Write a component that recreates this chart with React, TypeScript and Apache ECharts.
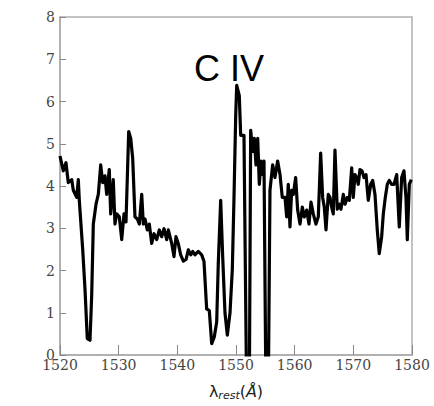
import React, { useEffect, useRef } from "react";
import * as echarts from "echarts";

const wavelength = [
  1520.0, 1520.56, 1521.02, 1521.41, 1522.0, 1522.27, 1522.85, 1523.12, 1523.29, 1523.87,
  1524.26, 1524.65, 1525.11, 1525.4, 1525.68, 1526.14, 1526.53, 1526.94, 1527.28, 1527.67,
  1527.96, 1528.4, 1528.64, 1529.08, 1529.37, 1529.66, 1530.11, 1530.52, 1530.91, 1531.25,
  1531.71, 1532.05, 1532.39, 1532.78, 1533.18, 1533.52, 1533.93, 1534.2, 1534.49, 1534.88,
  1535.22, 1535.63, 1536.02, 1536.48, 1536.93, 1537.33, 1537.73, 1538.19, 1538.46, 1539.04,
  1539.43, 1539.77, 1540.16, 1540.57, 1541.02, 1541.48, 1541.87, 1542.28, 1542.62, 1543.01,
  1543.57, 1544.15, 1544.54, 1545.0, 1545.45, 1545.86, 1546.3, 1546.71, 1546.98, 1547.39,
  1547.73, 1548.12, 1548.52, 1548.98, 1549.37, 1549.66, 1549.95, 1550.12, 1550.56, 1550.8,
  1551.36, 1551.82, 1552.27, 1552.5, 1552.85, 1553.12, 1553.41, 1553.7, 1553.97, 1554.26,
  1554.55, 1554.77, 1555.11, 1555.5, 1555.79, 1556.25, 1556.64, 1557.1, 1557.5, 1557.89,
  1558.35, 1558.64, 1558.91, 1559.2, 1559.49, 1559.77, 1560.17, 1560.51, 1560.91, 1561.3,
  1561.64, 1562.05, 1562.44, 1562.78, 1563.17, 1563.63, 1564.03, 1564.43, 1564.77, 1565.05,
  1565.34, 1565.73, 1566.02, 1566.31, 1566.58, 1566.87, 1567.26, 1567.61, 1567.89, 1568.29,
  1568.58, 1568.97, 1569.31, 1569.72, 1569.99, 1570.28, 1570.57, 1570.84, 1571.13, 1571.47,
  1571.82, 1572.16, 1572.55, 1572.96, 1573.3, 1573.69, 1574.08, 1574.42, 1574.83, 1575.11,
  1575.45, 1575.79, 1576.13, 1576.54, 1576.93, 1577.39, 1577.83, 1578.24, 1578.63, 1578.97,
  1579.2, 1579.54, 1579.88,
];

const flux = [
  4.71, 4.36, 4.55, 4.08, 4.15, 3.9, 3.73, 4.15, 3.66, 2.5,
  1.56, 0.39, 0.35, 1.4, 3.1, 3.57, 3.8, 4.5, 4.08, 4.24,
  3.8, 4.39, 3.34, 4.15, 3.1, 3.34, 3.27, 2.73, 3.34, 3.15,
  5.29, 5.13, 4.66, 3.27, 3.22, 3.1, 3.8, 3.1, 3.22, 2.96,
  3.1, 2.64, 2.87, 2.73, 2.96, 2.8, 2.99, 2.73, 2.96, 2.64,
  2.33, 2.8, 2.64, 2.37, 2.22, 2.26, 2.49, 2.37, 2.45, 2.37,
  2.45, 2.37, 2.22, 1.09, 1.05, 0.27, 0.43, 0.78, 2.17, 3.66,
  2.33, 1.0, 0.47, 1.0, 2.02, 3.73, 5.67, 6.38, 6.14, 5.2,
  5.2, -1.0, -1.0, 5.32, 4.82, 5.13, 4.5, 5.13, 4.04, 4.59,
  4.27, 4.59, -1.0, -1.0, 3.9, 4.5, 4.2, 4.59, 4.27, 3.73,
  3.73, 3.27, 4.04, 3.03, 3.9, 3.8, 4.2, 3.43, 3.1, 3.5,
  3.27, 3.43, 3.1, 3.62, 3.34, 3.1, 3.27, 4.78, 3.73, 3.5,
  2.96, 3.8, 3.73, 3.5, 3.34, 4.85, 3.45, 3.57, 3.45, 3.8,
  3.57, 3.73, 3.66, 4.43, 3.73, 4.27, 4.2, 4.04, 4.39, 4.36,
  4.2, 4.27, 3.66, 4.04, 4.13, 3.8, 2.96, 2.4, 2.8, 3.34,
  3.73, 4.04, 4.13, 4.04, 4.04, 4.27, 3.03, 4.2, 4.36, 3.73,
  2.73, 4.04, 4.15,
];

const lineLabel = "C IV";
const xTickMin = 1520;
const xTickMax = 1580;
const yTickMin = 0;
const yTickMax = 8;

export default function App() {
  const ref = useRef<HTMLDivElement>(null);
  useEffect(() => {
    if (!ref.current) return;
    const chart = echarts.init(ref.current, null, { renderer: "svg" });
    const serif = "'DejaVu Serif', serif";
    chart.setOption({
      animation: false,
      backgroundColor: "#ffffff",
      grid: {
        left: 60,
        top: 17,
        width: 352,
        height: 343,
        show: true,
        borderColor: "#b0b0b0",
        borderWidth: 1.5,
        backgroundColor: "transparent",
      },
      xAxis: {
        type: "value",
        min: xTickMin,
        max: xTickMax,
        interval: 10,
        axisLine: { show: true, lineStyle: { color: "#aaaaaa", width: 1.5 } },
        axisTick: { show: true, inside: true, length: 10, lineStyle: { color: "#888888", width: 1 } },
        splitLine: { show: false },
        axisLabel: {
          fontFamily: serif,
          fontSize: 14,
          color: "#444444",
          margin: 3,
          formatter: (v: number) => String(v),
        },
        name: "{a|λ}{b|rest}{a|(}{c|Å}{a|)}",
        nameLocation: "middle",
        nameGap: 27,
        nameTextStyle: {
          rich: {
            a: { fontFamily: "DejaVu Sans", fontSize: 16, color: "#222222" },
            c: { fontFamily: "DejaVu Sans", fontStyle: "italic", fontSize: 16, color: "#222222" },
            b: {
              fontFamily: "DejaVu Sans",
              fontStyle: "italic",
              fontSize: 11,
              color: "#222222",
              verticalAlign: "bottom",
              padding: [8, 0, 0, 0],
            },
          },
        },
      },
      yAxis: {
        type: "value",
        min: yTickMin,
        max: yTickMax,
        interval: 1,
        axisLine: { show: true, lineStyle: { color: "#aaaaaa", width: 1.5 } },
        axisTick: { show: true, inside: true, length: 6, lineStyle: { color: "#888888", width: 1 } },
        splitLine: { show: false },
        axisLabel: {
          fontFamily: serif,
          fontSize: 14,
          color: "#444444",
          margin: 5,
          formatter: (v: number) => String(v),
        },
      },
      graphic: [
        {
          type: "text",
          left: 194,
          top: 50,
          style: {
            text: lineLabel,
            fontFamily: "Liberation Sans",
            fontSize: 36,
            fill: "#000000",
          },
        },
      ],
      series: [
        {
          type: "line",
          data: wavelength.map((w, i) => [w, flux[i]]),
          showSymbol: false,
          symbol: "none",
          clip: true,
          lineStyle: { color: "#000000", width: 3.2, join: "round" },
        },
      ],
    });
    return () => chart.dispose();
  }, []);
  return (
    <div
      ref={ref}
      style={{ position: "fixed", left: 0, top: 0, width: 434, height: 406 }}
    />
  );
}
